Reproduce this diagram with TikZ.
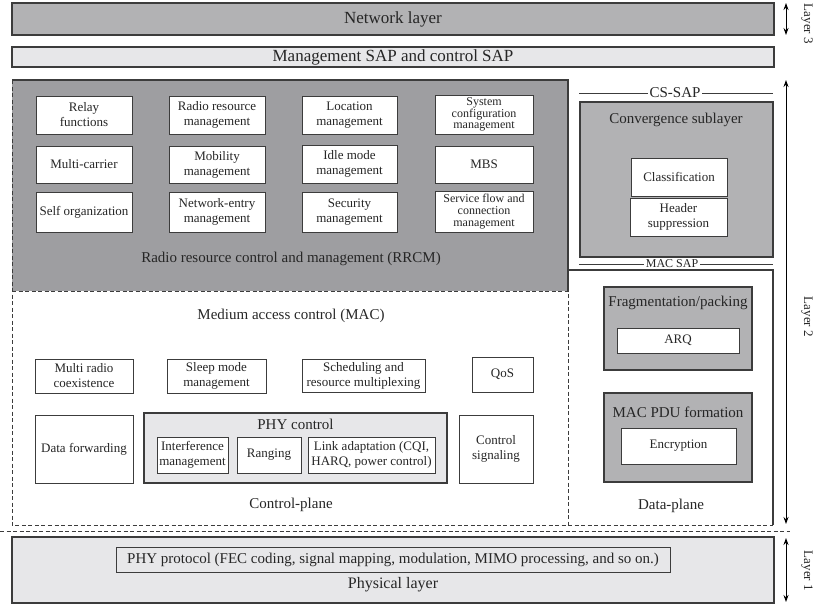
\documentclass[tikz,border=0pt]{standalone}
\usepackage{fontspec}
\setmainfont{Liberation Serif}
\usetikzlibrary{arrows.meta}
\definecolor{bordercol}{HTML}{3C3C3C}
\definecolor{txtcol}{HTML}{262626}
\definecolor{midgray}{HTML}{B2B2B4}
\definecolor{darkgray}{HTML}{9E9EA1}
\definecolor{lightgray}{HTML}{E7E7E9}
\tikzset{
  every node/.style={text=txtcol},
  bx/.style={draw=bordercol, line width=1.1pt, inner sep=0pt, align=center},
  wbox/.style={bx, fill=white, line width=1pt, font=\fontsize{13}{15}\selectfont},
  wboxt/.style={bx, fill=white, line width=1pt, font=\fontsize{12}{11.8}\selectfont},
  lbl/.style={inner sep=0pt, font=\fontsize{15}{17}\selectfont},
  laylbl/.style={inner sep=0pt, rotate=-90, font=\fontsize{13}{15}\selectfont},
  sapline/.style={draw=bordercol, line width=1pt},
  dashline/.style={draw=bordercol, line width=1pt, dash pattern=on 4pt off 2.5pt},
  solidline/.style={draw=bordercol, line width=1.1pt},
  layarrow/.style={draw=black, line width=0.9pt, {Stealth[length=7pt,width=5pt]}-{Stealth[length=7pt,width=5pt]}}
}
\begin{document}
\begin{tikzpicture}[x=1pt,y=-1pt]
\useasboundingbox (0,0) rectangle (816,605);
% top layers
\node[bx, fill=midgray, minimum width=762pt, minimum height=32pt, font=\fontsize{17}{19}\selectfont] (net) at (393,19) {Network layer};
\node[bx, fill=lightgray, minimum width=762pt, minimum height=20pt, font=\fontsize{17}{19}\selectfont] (msap) at (393,57) {Management SAP and control SAP};
% RRCM region
\fill[darkgray] (12,80) rectangle (568,291);
\coordinate (rtl) at (12,80);
\coordinate (rtr) at (568,80);
\coordinate (rbr) at (568,291);
\coordinate (rbl) at (12,291);
\coordinate (cbl) at (12,525);
\coordinate (cbr) at (568,525);
\coordinate (dtl) at (568,270);
\coordinate (dtr) at (773,270);
\coordinate (dbr) at (773,525);
\draw[solidline] (rtl) -- (rtr) -- (rbr);
\draw[dashline] (rtl) -- (cbl) -- (dbr);
\draw[dashline] (rbl) -- (rbr) -- (cbr);
\draw[solidline] (dtl) -- (dtr) -- (dbr);
% RRCM boxes
\node[wbox, minimum width=96pt, minimum height=38pt] (relay) at (84,115) {Relay\\functions};
\node[wbox, minimum width=96pt, minimum height=38pt] (rrm) at (217,115) {Radio resource\\management};
\node[wbox, minimum width=95pt, minimum height=38pt] (loc) at (349.5,115) {Location\\management};
\node[wboxt, minimum width=98pt, minimum height=39pt] (sys) at (484,114.5) {System\\configuration\\management};
\node[wbox, minimum width=96pt, minimum height=37pt] (mc) at (84,164.5) {Multi-carrier};
\node[wbox, minimum width=96pt, minimum height=37pt] (mob) at (217,164.5) {Mobility\\management};
\node[wbox, minimum width=95pt, minimum height=38pt] (idle) at (349.5,164) {Idle mode\\management};
\node[wbox, minimum width=98pt, minimum height=37pt] (mbs) at (484,164.5) {MBS};
\node[wbox, minimum width=96pt, minimum height=40pt] (self) at (84,212) {Self organization};
\node[wbox, minimum width=96pt, minimum height=40pt] (nent) at (217,212) {Network-entry\\management};
\node[wbox, minimum width=95pt, minimum height=40pt] (sec) at (349.5,212) {Security\\management};
\node[wboxt, minimum width=98pt, minimum height=41pt] (sfc) at (484,211.5) {Service flow and\\connection\\management};
\node[lbl] (rrcm) at (291,259) {Radio resource control and management (RRCM)};
% MAC / control plane
\node[lbl] (mac) at (291,316) {Medium access control (MAC)};
\node[wbox, minimum width=98pt, minimum height=34pt] (mrc) at (84,376) {Multi radio\\coexistence};
\node[wbox, minimum width=99pt, minimum height=34pt] (sleep) at (216.5,376) {Sleep mode\\management};
\node[wbox, minimum width=123pt, minimum height=33pt] (sched) at (363.5,375.5) {Scheduling and\\resource multiplexing};
\node[wbox, minimum width=61pt, minimum height=35pt] (qos) at (502.5,374.5) {QoS};
\node[wbox, minimum width=98pt, minimum height=68pt] (dfwd) at (84,449) {Data forwarding};
\node[bx, fill=lightgray, minimum width=303pt, minimum height=70pt] (phyc) at (295.5,448) {};
\node[lbl] (phyclbl) at (295.5,424) {PHY control};
\node[wbox, minimum width=71pt, minimum height=36pt] (intf) at (192.5,455) {Interference\\management};
\node[wbox, minimum width=64pt, minimum height=36pt] (rang) at (269,455) {Ranging};
\node[wbox, minimum width=127pt, minimum height=36pt] (link) at (371.5,455) {Link adaptation (CQI,\\HARQ, power control)};
\node[wbox, minimum width=74pt, minimum height=68pt] (csig) at (496,449) {Control\\signaling};
\node[lbl] (cplane) at (291,505) {Control-plane};
% convergence sublayer
\coordinate (cs1) at (579,93);
\coordinate (cs2) at (773,93);
\draw[sapline] (cs1) -- (cs2);
\node[lbl, fill=white, inner xsep=2pt] (cssap) at (675,93) {CS-SAP};
\node[bx, fill=midgray, minimum width=193pt, minimum height=155pt] (conv) at (676.5,179.5) {};
\node[lbl] (convlbl) at (676,120) {Convergence sublayer};
\node[wbox, minimum width=96pt, minimum height=38pt] (cls) at (679,177) {Classification};
\node[wbox, minimum width=97pt, minimum height=38pt] (hdr) at (678.5,217) {Header\\suppression};
\coordinate (ms1) at (579,264);
\coordinate (ms2) at (773,264);
\draw[sapline] (ms1) -- (ms2);
\node[inner sep=0pt, fill=white, inner xsep=2pt, font=\fontsize{12}{13}\selectfont] (macsap) at (672,264) {MAC SAP};
% data plane
\node[bx, fill=midgray, minimum width=148pt, minimum height=83pt] (frag) at (678,328.5) {};
\node[lbl] (fraglbl) at (678,303) {Fragmentation/packing};
\node[wbox, minimum width=122pt, minimum height=25pt] (arq) at (678,340.5) {ARQ};
\node[bx, fill=midgray, minimum width=148pt, minimum height=89pt] (pdu) at (678,437.5) {};
\node[lbl] (pdulbl) at (678,412) {MAC PDU formation};
\node[wbox, minimum width=115pt, minimum height=36pt] (enc) at (678.5,446) {Encryption};
\node[lbl] (dplane) at (671,506) {Data-plane};
% separator
\coordinate (sep1) at (0,531);
\coordinate (sep2) at (790,531);
\draw[dashline] (sep1) -- (sep2);
% physical layer
\node[bx, fill=lightgray, minimum width=762pt, minimum height=66pt] (phys) at (393,570) {};
\node[bx, fill=lightgray, line width=1pt, minimum width=554pt, minimum height=25pt, font=\fontsize{15}{17}\selectfont] (phyp) at (393,559.5) {PHY protocol (FEC coding, signal mapping, modulation, MIMO processing, and so on.)};
\node[inner sep=0pt, font=\fontsize{16}{18}\selectfont] (physlbl) at (393,585) {Physical layer};
% layer arrows
\coordinate (l3a) at (786,3);
\coordinate (l3b) at (786,35);
\coordinate (l2a) at (786,80);
\coordinate (l2b) at (786,524);
\coordinate (l1a) at (786,538);
\coordinate (l1b) at (786,602);
\draw[layarrow] (l3a) -- (l3b);
\draw[layarrow] (l2a) -- (l2b);
\draw[layarrow] (l1a) -- (l1b);
\node[laylbl] (lay3) at (807,24) {Layer 3};
\node[laylbl] (lay2) at (807,317) {Layer 2};
\node[laylbl] (lay1) at (807,571) {Layer 1};
\end{tikzpicture}
\end{document}
